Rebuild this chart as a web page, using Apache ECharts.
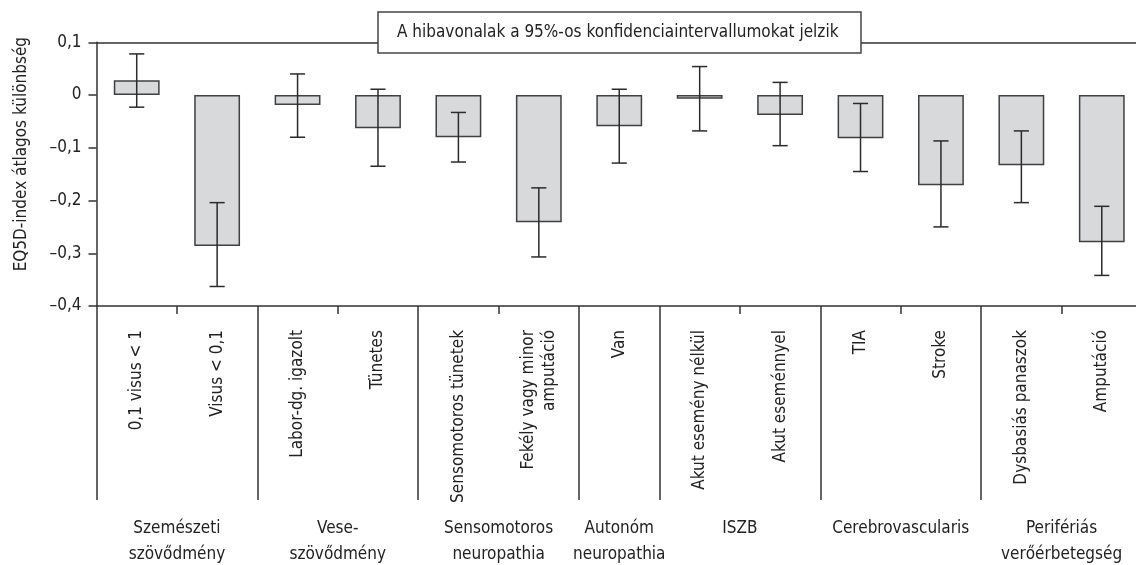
<!DOCTYPE html>
<html>
<head>
<meta charset="utf-8">
<script src="https://cdn.jsdelivr.net/npm/echarts@6/dist/echarts.min.js"></script>
<style>html,body{margin:0;padding:0;background:#fff}#c{width:1136px;height:565px}</style>
</head>
<body>
<div id="c"></div>
<script>
const categories = ['0,1 visus < 1','Visus < 0,1','Labor-dg. igazolt','Tünetes','Sensomotoros tünetek','Fekély vagy minor\namputáció','Van','Akut esemény nélkül','Akut eseménnyel','TIA','Stroke','Dysbasiás panaszok','Amputáció'];
const meanDiff = [0.028,-0.286,-0.019,-0.063,-0.080,-0.241,-0.059,-0.007,-0.038,-0.082,-0.171,-0.133,-0.279];
const ciLow  = [-0.023,-0.363,-0.080,-0.135,-0.127,-0.307,-0.129,-0.068,-0.096,-0.145,-0.250,-0.204,-0.342];
const ciHigh = [0.078,-0.204,0.040,0.011,-0.033,-0.176,0.011,0.054,0.024,-0.016,-0.087,-0.068,-0.211];
const groupNames = ['Szemészeti\nszövődmény','Vese-\nszövődmény','Sensomotoros\nneuropathia','Autonóm\nneuropathia','ISZB','Cerebrovascularis','Perifériás\nverőérbetegség'];
const groupStart = [0,2,4,6,7,9,11];
const groupSize  = [2,2,2,1,2,2,2];
const yTicks = [-0.4,-0.3,-0.2,-0.1,0,0.1];
const titleText = 'A hibavonalak a 95%-os konfidenciaintervallumokat jelzik';
const yName = 'EQ5D-index átlagos különbség';

const FONT = "'Liberation Sans Narrow','DejaVu Sans Condensed',sans-serif";
const INK = '#222';
const groupCenters = groupStart.map((s,i)=>s+groupSize[i]/2);
const separators = groupStart.concat([categories.length]);

const chart = echarts.init(document.getElementById('c'), null, {renderer:'canvas'});
chart.setOption({
  animation:false,
  backgroundColor:'#fff',
  textStyle:{fontFamily:FONT,color:INK},
  title:{
    text:titleText, left:378, top:12,
    padding:[12,23,12,19],
    backgroundColor:'#fff', borderColor:'#444', borderWidth:1.5,
    textStyle:{fontFamily:FONT,fontSize:17,fontWeight:'normal',color:INK}
  },
  grid:{left:96.5, top:42.3, right:-6, bottom:259, containLabel:false, outerBoundsMode:'none'},
  xAxis:[
    {type:'category', data:categories, position:'bottom', boundaryGap:true,
     axisLine:{show:true,onZero:false,lineStyle:{color:'#333',width:1.5}},
     axisTick:{show:true,length:8,inside:false,lineStyle:{color:'#333',width:1.5}},
     axisLabel:{rotate:90, margin:24, interval:0, fontFamily:FONT, fontSize:17, color:INK, lineHeight:21},
     splitLine:{show:false}},
    {type:'value', min:0, max:categories.length, position:'bottom',
     axisLine:{show:false,onZero:false},
     axisTick:{show:true, customValues:separators, length:194, lineStyle:{color:'#333',width:1.5}},
     axisLabel:{show:true, customValues:groupCenters, margin:210, fontFamily:FONT, fontSize:17, color:INK, lineHeight:26,
       formatter:v=>{const i=groupCenters.indexOf(v);return i>=0?groupNames[i]:'';}},
     splitLine:{show:false}},
    {type:'category', data:categories, position:'top',
     axisLine:{show:true,onZero:false,lineStyle:{color:'#333',width:1.5}},
     axisTick:{show:false}, axisLabel:{show:false}, splitLine:{show:false}}
  ],
  yAxis:{
    type:'value', min:-0.4, max:0.1, interval:0.1,
    name:yName, nameLocation:'middle', nameRotate:90, nameGap:66,
    nameTextStyle:{fontFamily:FONT,fontSize:17,color:INK,padding:[0,0,0,40]},
    axisLine:{show:true,onZero:false,lineStyle:{color:'#333',width:1.5}},
    axisTick:{show:true,length:8,lineStyle:{color:'#333',width:1.5}},
    axisLabel:{margin:15,fontFamily:FONT,fontSize:17,color:INK,
      formatter:v=>{const r=Math.round(v*10)/10; if(r===0) return '0'; return (r<0?'\u2013':'')+Math.abs(r).toFixed(1).replace('.',',');}},
    splitLine:{show:false}
  },
  series:[
    {type:'bar', data:meanDiff, barWidth:'57%',
     itemStyle:{color:'#d8d9db',borderColor:'#404040',borderWidth:1.5}, z:2},
    {type:'custom', z:3,
     data:categories.map((c,i)=>[i,ciLow[i],ciHigh[i]]),
     encode:{x:0,y:[1,2]},
     renderItem:(params,api)=>{
       const x=api.value(0);
       const lo=api.coord([x,api.value(1)]);
       const hi=api.coord([x,api.value(2)]);
       const hw=api.size([1,0])[0]*0.094;
       const st={stroke:'#2b2b2b',lineWidth:1.5};
       return {type:'group',children:[
         {type:'line',shape:{x1:lo[0],y1:lo[1],x2:hi[0],y2:hi[1]},style:st},
         {type:'line',shape:{x1:lo[0]-hw,y1:lo[1],x2:lo[0]+hw,y2:lo[1]},style:st},
         {type:'line',shape:{x1:hi[0]-hw,y1:hi[1],x2:hi[0]+hw,y2:hi[1]},style:st}
       ]};
     }}
  ]
});
</script>
</body>
</html>
